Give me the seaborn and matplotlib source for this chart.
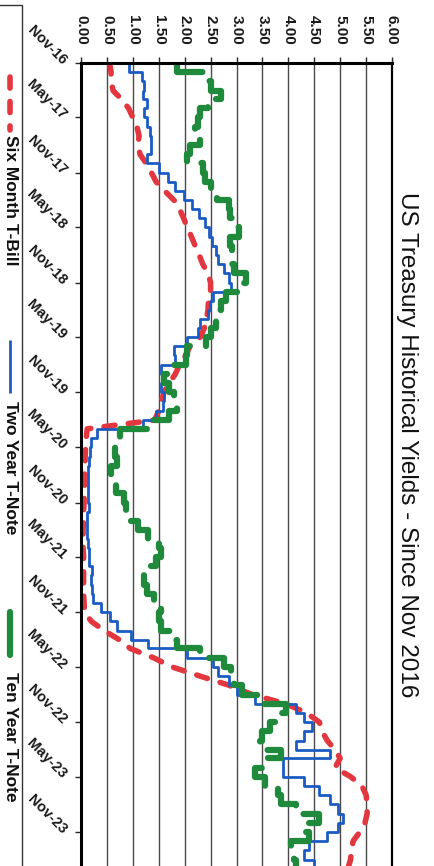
import numpy as np
import pandas as pd
import matplotlib
matplotlib.use("Agg")
import matplotlib.pyplot as plt
import matplotlib.dates as mdates
from matplotlib.lines import Line2D
from matplotlib.patches import Rectangle
import seaborn as sns

# ---- data: month-start yields (%) ----
months = pd.date_range("2016-11-01", periods=89, freq="MS")

six_month = [
    0.55, 0.58, 0.58, 0.62, 0.78, 0.92, 1.00, 1.08, 1.12, 1.10,
    1.14, 1.26, 1.36, 1.45, 1.62, 1.80, 1.90, 1.98, 2.05, 2.13,
    2.20, 2.28, 2.35, 2.45, 2.50, 2.50, 2.46, 2.45, 2.42, 2.38,
    2.30, 2.10, 2.02, 1.90, 1.82, 1.70, 1.60, 1.55, 1.50, 1.42,
    0.12, 0.10, 0.09, 0.08, 0.08, 0.07, 0.07, 0.06, 0.06, 0.05,
    0.05, 0.04, 0.04, 0.04, 0.05, 0.05, 0.05, 0.05, 0.05, 0.06,
    0.07, 0.20, 0.45, 0.75, 0.95, 1.40, 1.75, 2.30, 2.85, 3.30,
    3.95, 4.35, 4.60, 4.65, 4.75, 4.90, 5.00, 4.90, 5.20, 5.42,
    5.50, 5.52, 5.52, 5.48, 5.38, 5.25, 5.22, 5.20, 5.15,
]

two_year = [
    0.92, 1.17, 1.22, 1.20, 1.28, 1.22, 1.28, 1.33, 1.36, 1.36,
    1.27, 1.50, 1.68, 1.82, 1.98, 2.15, 2.28, 2.40, 2.47, 2.52,
    2.60, 2.65, 2.76, 2.85, 2.90, 2.55, 2.48, 2.45, 2.30, 2.25,
    2.05, 1.80, 1.82, 1.55, 1.58, 1.55, 1.60, 1.58, 1.45, 1.20,
    0.30, 0.20, 0.17, 0.15, 0.14, 0.14, 0.13, 0.14, 0.16, 0.12,
    0.12, 0.12, 0.14, 0.15, 0.16, 0.22, 0.20, 0.22, 0.24, 0.38,
    0.55, 0.70, 0.96, 1.30, 2.05, 2.55, 2.65, 2.85, 3.00, 3.35,
    4.15, 4.30, 4.45, 4.30, 4.15, 4.80, 3.90, 3.90, 4.30, 4.60,
    4.80, 4.95, 5.05, 4.95, 4.75, 4.40, 4.30, 4.50, 4.60,
]

ten_year = [
    1.85, 2.45, 2.50, 2.70, 2.45, 2.30, 2.25, 2.20, 2.30, 2.10,
    2.05, 2.35, 2.40, 2.50, 2.62, 2.85, 2.88, 3.00, 3.05, 2.88,
    2.92, 2.90, 2.95, 3.18, 3.12, 2.80, 2.70, 2.65, 2.60, 2.50,
    2.42, 2.05, 2.02, 1.80, 1.60, 1.70, 1.80, 1.85, 1.70, 1.30,
    0.75, 0.65, 0.66, 0.70, 0.58, 0.60, 0.68, 0.82, 0.86, 0.92,
    1.10, 1.30, 1.50, 1.55, 1.45, 1.30, 1.22, 1.27, 1.40, 1.55,
    1.50, 1.55, 1.75, 1.85, 2.30, 2.75, 2.90, 2.95, 3.10, 3.50,
    3.95, 3.80, 3.65, 3.50, 3.45, 3.85, 3.50, 3.35, 3.55, 3.80,
    3.85, 4.15, 4.60, 4.30, 4.40, 4.05, 4.10, 4.15, 4.20,
]

series_names = ["Six Month T-Bill", "Two Year T-Note", "Ten Year T-Note"]
yield_ticks = np.arange(0, 6.01, 0.5)
date_ticks = pd.date_range("2016-11-01", "2023-11-01", freq="6MS")
title = "US Treasury Historical Yields - Since Nov 2016"

# ---- styling ----
sns.set_style("white")
plt.rcParams["font.family"] = ["Liberation Sans", "DejaVu Sans"]

RED, BLUE, GREEN = "#e2373f", "#1c5bc4", "#1f8a3c"
styles = {
    "Six Month T-Bill": dict(color=RED, lw=4.0, ls=(0, (2.0, 2.4)),
                             capstyle="round", drawstyle="default"),
    "Two Year T-Note": dict(color=BLUE, lw=2.0, ls="-",
                            capstyle="butt", drawstyle="steps-pre"),
    "Ten Year T-Note": dict(color=GREEN, lw=4.5, ls=(0, (5.5, 2.6)),
                            capstyle="round", drawstyle="steps-pre"),
}

df = pd.DataFrame({"date": months,
                   series_names[0]: six_month,
                   series_names[1]: two_year,
                   series_names[2]: ten_year})

W, H = 434, 866
fig = plt.figure(figsize=(W / 100, H / 100), dpi=100)
fig.patch.set_facecolor("white")


def fx(px):
    return px / W


def fy(py):
    return 1 - py / H


top_px, bottom_px = 63, 900
ax = fig.add_axes([fx(81), fy(bottom_px), fx(392) - fx(81), fy(top_px) - fy(bottom_px)])

for name in series_names:
    st = styles[name]
    sns.lineplot(data=df, x=name, y="date", orient="y", estimator=None,
                 ax=ax, color=st["color"], linewidth=st["lw"],
                 linestyle=st["ls"], drawstyle=st["drawstyle"],
                 dash_capstyle=st["capstyle"])

# date axis runs downward; scale fixed by the tick spacing
t0 = mdates.date2num(pd.Timestamp("2016-11-01"))
t1 = mdates.date2num(pd.Timestamp("2023-11-01"))
px_per_day = (832 - top_px) / (t1 - t0)
ax.set_ylim(t0 + (bottom_px - top_px) / px_per_day, t0)
ax.set_xlim(0, 6)

ax.set_yticks(mdates.date2num(date_ticks))
ax.yaxis.set_major_formatter(mdates.DateFormatter("%b-%y"))
ax.tick_params(axis="y", direction="out", length=4, width=1, pad=8,
               labelsize=10.5, left=True)
for lab in ax.get_yticklabels():
    lab.set_rotation(-45)
    lab.set_ha("right")
    lab.set_va("center")
    lab.set_rotation_mode("anchor")
    lab.set_fontweight("bold")
    lab.set_color("#1a1a1a")

ax.xaxis.set_ticks_position("top")
ax.set_xticks(yield_ticks)
ax.set_xticklabels([f"{v:.2f}" for v in yield_ticks], rotation=-90,
                   fontweight="bold", color="#1a1a1a")
ax.tick_params(axis="x", direction="out", length=4, width=1, pad=9,
               labelsize=11, top=True, bottom=False)

ax.set_xlabel("")
ax.set_ylabel("")
ax.grid(axis="x", color="#4a4a4a", lw=1.0)
ax.grid(axis="y", visible=False)
ax.set_axisbelow(True)

for side, lw in (("left", 2.2), ("top", 2.2), ("right", 1.6)):
    ax.spines[side].set_visible(True)
    ax.spines[side].set_color("black")
    ax.spines[side].set_linewidth(lw)
ax.spines["bottom"].set_visible(False)

# ---- title ----
fig.text(fx(407), fy(445), title, rotation=-90, ha="center", va="center",
         fontsize=17.5, color="#111111")

# ---- legend strip ----
fig.add_artist(Rectangle((fx(-10), fy(bottom_px)), fx(22) - fx(-10),
                         fy(5) - fy(bottom_px), transform=fig.transFigure,
                         fill=False, ec="#333333", lw=1.0))
legend_pos = [
    (77, 130, 200, (0, (2.0, 2.4))),
    (340, 393, 468, "-"),
    (612, 655, 737, "-"),
]
for name, (y0, y1, yt, ls) in zip(series_names, legend_pos):
    st = styles[name]
    fig.add_artist(Line2D([fx(10), fx(10)], [fy(y0), fy(y1)],
                          transform=fig.transFigure, color=st["color"],
                          lw=st["lw"], ls=ls, dash_capstyle=st["capstyle"],
                          solid_capstyle=st["capstyle"]))
    fig.text(fx(10), fy(yt), name, rotation=-90, ha="center", va="center",
             fontsize=12.5, fontweight="bold", color="#111111")

fig.savefig("out.png", dpi=100, facecolor="white")
